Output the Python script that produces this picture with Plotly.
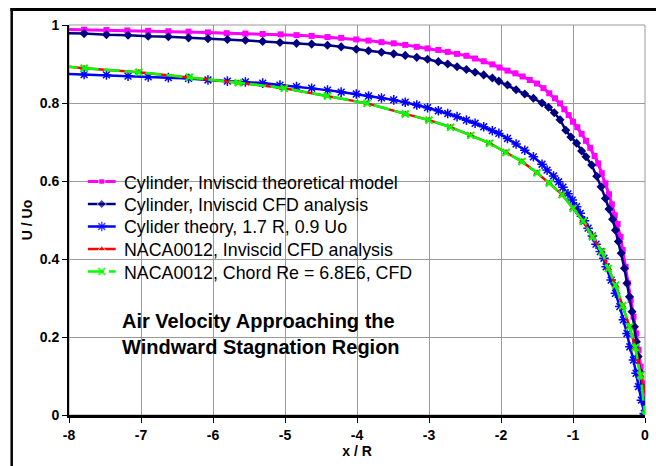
import plotly.graph_objects as go

# ---------------- data ----------------
cyl_theory_x = [-8.1, -7.79, -7.48, -7.19, -6.90, -6.62, -6.34, -6.07, -5.81, -5.55, -5.31, -5.06,
                -4.84, -4.63, -4.41, -4.22, -4.01, -3.84, -3.66, -3.49, -3.33, -3.17, -3.02, -2.87,
                -2.74, -2.61, -2.48, -2.36, -2.24, -2.12, -2.02, -1.91, -1.80, -1.70, -1.60, -1.50,
                -1.41, -1.33, -1.25, -1.18, -1.12, -1.06, -1.00, -0.94, -0.88, -0.82, -0.76, -0.70,
                -0.65, -0.60, -0.55, -0.50, -0.46, -0.42, -0.38, -0.34, -0.31, -0.27, -0.24, -0.20,
                -0.16, -0.12, -0.09, -0.06, -0.03, -0.01, 0.0]
cyl_theory_u = [0.989, 0.988, 0.987, 0.986, 0.985, 0.984, 0.983, 0.981, 0.979, 0.978, 0.977, 0.976,
                0.974, 0.972, 0.969, 0.967, 0.963, 0.960, 0.956, 0.953, 0.949, 0.944, 0.940, 0.936,
                0.931, 0.926, 0.921, 0.914, 0.907, 0.899, 0.891, 0.883, 0.876, 0.868, 0.859, 0.850,
                0.838, 0.825, 0.812, 0.799, 0.784, 0.769, 0.752, 0.738, 0.721, 0.703, 0.685, 0.664,
                0.645, 0.620, 0.594, 0.566, 0.540, 0.512, 0.490, 0.457, 0.423, 0.380, 0.338, 0.295,
                0.252, 0.209, 0.167, 0.124, 0.081, 0.030, 0.0]

cyl_cfd_x = [-8.1, -7.79, -7.48, -7.18, -6.90, -6.62, -6.34, -6.07, -5.80, -5.55, -5.31, -5.07,
             -4.84, -4.63, -4.41, -4.22, -4.01, -3.84, -3.66, -3.49, -3.33, -3.17, -3.02, -2.87,
             -2.74, -2.61, -2.48, -2.36, -2.24, -2.12, -2.03, -1.91, -1.79, -1.67, -1.55, -1.43,
             -1.34, -1.26, -1.18, -1.10, -1.03, -0.95, -0.88, -0.82, -0.74, -0.67, -0.61, -0.55,
             -0.50, -0.45, -0.41, -0.37, -0.33, -0.285, -0.25, -0.215, -0.18, -0.147, -0.12,
             -0.095, -0.069, -0.041, -0.015, 0.0]
cyl_cfd_u = [0.979, 0.978, 0.975, 0.974, 0.971, 0.970, 0.967, 0.965, 0.963, 0.961, 0.958, 0.955,
             0.953, 0.951, 0.948, 0.944, 0.938, 0.934, 0.930, 0.926, 0.922, 0.917, 0.912, 0.906,
             0.900, 0.893, 0.886, 0.879, 0.872, 0.864, 0.856, 0.846, 0.834, 0.823, 0.812, 0.800,
             0.789, 0.775, 0.757, 0.730, 0.713, 0.697, 0.677, 0.662, 0.641, 0.612, 0.585, 0.555,
             0.528, 0.502, 0.474, 0.445, 0.415, 0.376, 0.338, 0.303, 0.265, 0.226, 0.188,
             0.150, 0.111, 0.073, 0.034, 0.0]

cyl17_x = [-8.1, -7.79, -7.48, -7.18, -6.90, -6.62, -6.34, -6.07, -5.80, -5.55, -5.31, -5.07,
           -4.84, -4.63, -4.41, -4.22, -4.01, -3.84, -3.66, -3.49, -3.33, -3.17, -3.02, -2.87,
           -2.74, -2.61, -2.48, -2.36, -2.24, -2.12, -2.03, -1.91, -1.79, -1.67, -1.55, -1.43,
           -1.36, -1.27, -1.20, -1.14, -1.07, -1.01, -0.95, -0.90, -0.84, -0.79, -0.73, -0.68,
           -0.62, -0.57, -0.54, -0.47, -0.41, -0.35, -0.30, -0.25, -0.21, -0.16, -0.124, -0.09,
           -0.05, -0.01, 0.0]
cyl17_u = [0.875, 0.873, 0.872, 0.869, 0.867, 0.865, 0.863, 0.859, 0.856, 0.854, 0.851, 0.846,
           0.842, 0.838, 0.833, 0.828, 0.823, 0.818, 0.813, 0.808, 0.802, 0.795, 0.788, 0.780,
           0.773, 0.765, 0.756, 0.748, 0.739, 0.729, 0.722, 0.709, 0.695, 0.679, 0.662, 0.643,
           0.628, 0.613, 0.598, 0.584, 0.567, 0.551, 0.534, 0.517, 0.498, 0.479, 0.459, 0.438,
           0.419, 0.402, 0.380, 0.346, 0.312, 0.278, 0.244, 0.209, 0.175, 0.141, 0.107, 0.073,
           0.038, 0.004, 0.0]

naca_inv_x = [-8.1, -7.79, -7.03, -6.33, -5.65, -5.01, -4.41, -3.86, -3.33, -3.00, -2.70, -2.42,
              -2.16, -1.93, -1.71, -1.50, -1.33, -1.15, -1.00, -0.86, -0.73, -0.60, -0.51, -0.41,
              -0.31, -0.215, -0.135, -0.062, 0.0]
naca_inv_u = [0.895, 0.889, 0.879, 0.866, 0.852, 0.838, 0.818, 0.799, 0.772, 0.756, 0.738, 0.717,
              0.697, 0.673, 0.650, 0.621, 0.595, 0.565, 0.530, 0.497, 0.457, 0.419, 0.376, 0.333,
              0.280, 0.226, 0.173, 0.102, 0.060]

naca_re_x = [-8.1, -7.79, -7.03, -6.33, -5.65, -5.01, -4.41, -3.86, -3.33, -3.00, -2.70, -2.42,
             -2.16, -1.93, -1.71, -1.50, -1.33, -1.15, -1.00, -0.86, -0.73, -0.60, -0.51, -0.41,
             -0.31, -0.215, -0.135, -0.062, 0.0]
naca_re_u = [0.895, 0.889, 0.879, 0.866, 0.852, 0.838, 0.818, 0.799, 0.772, 0.756, 0.738, 0.717,
             0.697, 0.673, 0.650, 0.621, 0.595, 0.565, 0.530, 0.497, 0.457, 0.419, 0.376, 0.333,
             0.280, 0.226, 0.173, 0.102, 0.0]

series_names = ["Cylinder, Inviscid theoretical model",
                "Cylinder, Inviscid CFD analysis",
                "Cylider theory, 1.7 R, 0.9 Uo",
                "NACA0012, Inviscid CFD analysis",
                "NACA0012, Chord Re = 6.8E6, CFD"]

x_tick_vals = [-8, -7, -6, -5, -4, -3, -2, -1, 0]
x_tick_text = ["-8", "-7", "-6", "-5", "-4", "-3", "-2", "-1", "0"]
y_tick_vals = [0, 0.2, 0.4, 0.6, 0.8, 1]
y_tick_text = ["0", "0.2", "0.4", "0.6", "0.8", "1"]

title_text = "<b>Air Velocity Approaching the<br>Windward Stagnation Region</b>"

# ---------------- styles ----------------
FONT = "Arial, Liberation Sans, sans-serif"
GREEN_DASH = "16px,5px"
styles = [
    dict(line=dict(color="#FF00FF", width=3),
         marker=dict(symbol="square", size=6, color="#FF00FF")),
    dict(line=dict(color="#000080", width=2.5),
         marker=dict(symbol="diamond", size=7, color="#000080")),
    dict(line=dict(color="#0000FF", width=2.5),
         marker=dict(symbol="asterisk-open", size=8, color="#0000FF",
                     line=dict(color="#0000FF", width=1.5))),
    dict(line=dict(color="#FF0000", width=2.5),
         marker=dict(symbol="triangle-up", size=7, color="#FF0000")),
    dict(line=dict(color="#00FF00", width=2.5, dash=GREEN_DASH),
         marker=dict(symbol="x-thin-open", size=7, color="#00FF00",
                     line=dict(color="#00FF00", width=2))),
]
series_x = [cyl_theory_x, cyl_cfd_x, cyl17_x, naca_inv_x, naca_re_x]
series_y = [cyl_theory_u, cyl_cfd_u, cyl17_u, naca_inv_u, naca_re_u]

W, H = 656, 466
L, R, T, B = 69, 7, 25, 51
PW, PH = W - L - R, H - T - B


def px2x(px):
    return (px - L) / PW


def py2y(py):
    return (H - B - py) / PH


fig = go.Figure()
for sx, sy, name, st in zip(series_x, series_y, series_names, styles):
    fig.add_trace(go.Scatter(x=sx, y=sy, name=name, mode="lines+markers",
                             showlegend=False, **st))

# ---- hand-made legend (keys on a pixel-space overlay axis, text as annotations) ----
LEG_Y0, LEG_DY = 181.5, 22.5
KEY_X0, KEY_X1, TEXT_X = 88, 116, 122
annotations = []
for i, (name, st) in enumerate(zip(series_names, styles)):
    yy = LEG_Y0 + i * LEG_DY
    mk = dict(st["marker"])
    mk["size"] = [0, mk["size"], 0]
    fig.add_trace(go.Scatter(x=[KEY_X0, (KEY_X0 + KEY_X1) / 2, KEY_X1], y=[yy, yy, yy],
                             mode="lines+markers", line=st["line"], marker=mk,
                             xaxis="x2", yaxis="y2", showlegend=False, hoverinfo="skip",
                             cliponaxis=False))
    annotations.append(dict(text=name, xref="paper", yref="paper", x=px2x(TEXT_X),
                            y=py2y(yy + 1), xanchor="left", yanchor="middle",
                            showarrow=False,
                            font=dict(family=FONT, size=17.8, color="black")))

annotations.append(dict(text=title_text, xref="paper", yref="paper",
                        x=px2x(120), y=py2y(334), xanchor="left", yanchor="middle",
                        align="left", showarrow=False,
                        font=dict(family=FONT, size=20, color="black")))

shapes = [
    # white boxes hiding gridlines behind legend and title
    dict(type="rect", xref="paper", yref="paper", layer="between",
         x0=px2x(72), x1=px2x(423), y0=py2y(283), y1=py2y(167),
         fillcolor="white", line=dict(width=0)),
    dict(type="rect", xref="paper", yref="paper", layer="between",
         x0=px2x(120), x1=px2x(397), y0=py2y(362), y1=py2y(303),
         fillcolor="white", line=dict(width=0)),
    # outer chart frame (extends past the right and bottom page edges)
    dict(type="line", xref="paper", yref="paper", x0=px2x(10), x1=px2x(670),
         y0=py2y(9.5), y1=py2y(9.5), line=dict(color="black", width=3)),
    dict(type="line", xref="paper", yref="paper", x0=px2x(11.3), x1=px2x(11.3),
         y0=py2y(8), y1=py2y(480), line=dict(color="black", width=2.5)),
]

fig.update_layout(
    width=W, height=H,
    margin=dict(l=L, r=R, t=T, b=B, pad=0),
    paper_bgcolor="white", plot_bgcolor="white",
    font=dict(family=FONT, color="black"),
    showlegend=False,
    shapes=shapes,
    annotations=annotations,
    xaxis2=dict(overlaying="x", range=[L, W - R], visible=False, fixedrange=True),
    yaxis2=dict(overlaying="y", range=[H - B, T], visible=False, fixedrange=True),
)

fig.update_xaxes(selector=dict(anchor="y"))
fig.layout.xaxis.update(range=[-8, 0], tickvals=x_tick_vals, ticktext=x_tick_text,
                        showgrid=True, gridcolor="#9a9a9a", gridwidth=1, zeroline=False,
                        showline=True, linecolor="black", linewidth=2.5,
                        ticks="outside", ticklen=5, tickcolor="black", tickwidth=1,
                        tickfont=dict(family=FONT, size=14, color="black", weight="bold"),
                        title=dict(text="<b>x / R</b>",
                                   font=dict(family=FONT, size=14, color="black"),
                                   standoff=2))
fig.layout.yaxis.update(range=[0, 1], tickvals=y_tick_vals, ticktext=y_tick_text,
                        showgrid=True, gridcolor="#9a9a9a", gridwidth=1, zeroline=False,
                        showline=True, linecolor="black", linewidth=2,
                        ticks="outside", ticklen=5, tickcolor="black", tickwidth=1,
                        tickfont=dict(family=FONT, size=14, color="black", weight="bold"),
                        title=dict(text="<b>U / Uo</b>",
                                   font=dict(family=FONT, size=14, color="black"),
                                   standoff=4))

# gray border on top/right of plot area
fig.add_shape(type="rect", xref="paper", yref="paper", x0=0, x1=1, y0=0, y1=1,
              line=dict(color="#9a9a9a", width=1), layer="below")

fig.write_html("out.html")
